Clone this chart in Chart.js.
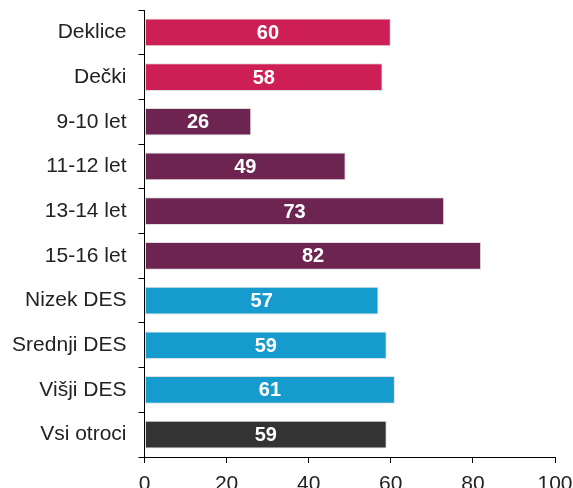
<!DOCTYPE html>
<html>
<head>
<meta charset="utf-8">
<script src="https://cdn.jsdelivr.net/npm/chart.js@4"></script>
<style>
  html, body { margin: 0; padding: 0; background: #fff; }
  #wrap { width: 573px; height: 488px; }
</style>
</head>
<body>
<div id="wrap"><canvas id="chart" width="573" height="488"></canvas></div>
<script>
const categories = ['Deklice', 'Dečki', '9-10 let', '11-12 let', '13-14 let', '15-16 let', 'Nizek DES', 'Srednji DES', 'Višji DES', 'Vsi otroci'];
const values = [60, 58, 26, 49, 73, 82, 57, 59, 61, 59];
const barColors = ['#CD1F55', '#CD1F55', '#6D2450', '#6D2450', '#6D2450', '#6D2450', '#159BCE', '#159BCE', '#159BCE', '#333333'];
const xTicks = [0, 20, 40, 60, 80, 100];

const FONT = '"Liberation Sans", Arial, sans-serif';

// white value label in the middle of each bar
const barLabels = {
    id: 'barLabels',
    afterDatasetsDraw(chart) {
        const ctx = chart.ctx;
        const meta = chart.getDatasetMeta(0);
        ctx.save();
        ctx.fillStyle = '#fff';
        ctx.font = 'bold 20px ' + FONT;
        ctx.textAlign = 'center';
        ctx.textBaseline = 'middle';
        meta.data.forEach((bar, i) => {
            const cx = (bar.x + bar.base) / 2;
            ctx.fillText(String(values[i]), cx, bar.y + 1);
        });
        ctx.restore();
    }
};

new Chart(document.getElementById('chart'), {
    type: 'bar',
    data: {
        labels: categories,
        datasets: [{
            data: values,
            backgroundColor: barColors,
            borderColor: 'rgba(210,210,210,0.7)',
            borderWidth: 1,
            borderSkipped: false,
            barPercentage: 0.62,
            categoryPercentage: 1
        }]
    },
    options: {
        indexAxis: 'y',
        responsive: false,
        animation: false,
        layout: { padding: { top: 10, right: 18, left: 0, bottom: 0 } },
        plugins: {
            legend: { display: false },
            tooltip: { enabled: false }
        },
        scales: {
            x: {
                min: 0,
                max: 100,
                afterBuildTicks(scale) {
                    scale.ticks = xTicks.map(v => ({ value: v }));
                },
                afterFit(scale) {
                    scale.height = 31;
                    scale.paddingLeft = 0;
                    scale.paddingRight = 0;
                },
                grid: { drawOnChartArea: false, tickLength: 6, color: '#000' },
                border: { color: '#000', width: 1 },
                ticks: { color: '#222', padding: 9, font: { family: FONT, size: 21 } }
            },
            y: {
                afterFit(scale) {
                    scale.width = 144.5;
                    scale.paddingTop = 0;
                    scale.paddingBottom = 0;
                },
                grid: { drawOnChartArea: false, offset: true, tickLength: 6, color: '#000' },
                border: { color: '#000', width: 1 },
                ticks: { color: '#222', padding: 12, font: { family: FONT, size: 21 } }
            }
        }
    },
    plugins: [barLabels]
});
</script>
</body>
</html>
